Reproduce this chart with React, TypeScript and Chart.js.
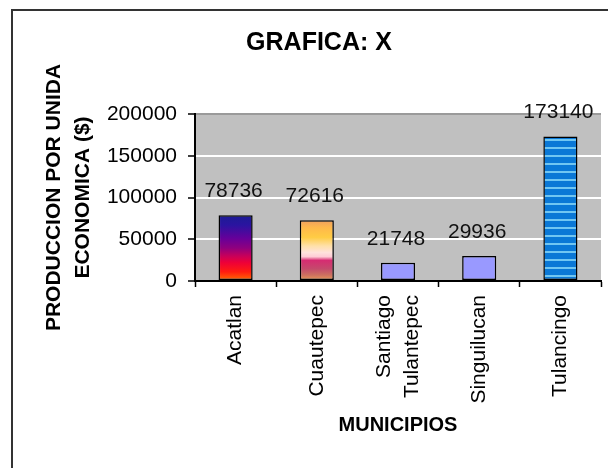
import React, { useEffect, useRef } from 'react';
import { Chart, registerables } from 'chart.js';

Chart.register(...registerables);

// ---- data ----
const categories: (string | string[])[] = ['Acatlan', 'Cuautepec', ['Santiago', 'Tulantepec'], 'Singuilucan', 'Tulancingo'];
const values = [78736, 72616, 21748, 29936, 173140];
const yTicks = [0, 50000, 100000, 150000, 200000];
const chartTitle = 'GRAFICA: X';
const yTitle = ['PRODUCCION POR UNIDA', 'ECONOMICA ($)'];
const xTitle = 'MUNICIPIOS';

// ---- styles ----
const FONT = "'Liberation Sans', Arial, sans-serif";
const barFills = ['gradA', 'gradB', '#9999ff', '#9999ff', 'stripes'];
const gradAStops: [number, string][] = [
  [0, '#1c1c94'], [0.15, '#2a14a0'], [0.35, '#66009a'], [0.5, '#90007e'],
  [0.62, '#c8005a'], [0.72, '#ee0038'], [0.86, '#ff1c10'], [1, '#ff7200'],
];
const gradBStops: [number, string][] = [
  [0, '#f0a060'], [0.12, '#ffb84a'], [0.28, '#ffcc44'], [0.42, '#ffe0a8'],
  [0.53, '#ffe2dc'], [0.6, '#ffccd6'], [0.66, '#d62c72'], [0.8, '#c44a6c'],
  [0.9, '#cc7060'], [1, '#eea056'],
];

let stripePattern: CanvasPattern | null = null;
function getStripes(ctx: CanvasRenderingContext2D) {
  if (stripePattern) return stripePattern;
  const pc = document.createElement('canvas');
  pc.width = 4;
  pc.height = 8;
  const p = pc.getContext('2d')!;
  p.fillStyle = '#0a78d6';
  p.fillRect(0, 0, 4, 8);
  p.fillStyle = '#70c6f2';
  p.fillRect(0, 3, 4, 2);
  stripePattern = ctx.createPattern(pc, 'repeat');
  return stripePattern;
}

function grad(ctx: CanvasRenderingContext2D, top: number, bottom: number, stops: [number, string][]) {
  const g = ctx.createLinearGradient(0, top, 0, bottom);
  stops.forEach(([o, c]) => g.addColorStop(o, c));
  return g;
}

const framePlugin = {
  id: 'frame',
  beforeDraw(chart: any) {
    const ctx = chart.ctx as CanvasRenderingContext2D;
    ctx.save();
    ctx.fillStyle = '#ffffff';
    ctx.fillRect(0, 0, chart.width, chart.height);
    ctx.strokeStyle = '#333333';
    ctx.lineWidth = 2;
    ctx.beginPath();
    ctx.moveTo(12, chart.height + 5);
    ctx.lineTo(12, 10);
    ctx.lineTo(chart.width + 5, 10);
    ctx.stroke();
    const a = chart.chartArea;
    ctx.fillStyle = '#c0c0c0';
    ctx.fillRect(a.left, a.top, a.right - a.left, a.bottom - a.top);
    ctx.restore();
  },
};

const labelsPlugin = {
  id: 'barLabels',
  afterDatasetsDraw(chart: any) {
    const ctx = chart.ctx as CanvasRenderingContext2D;
    const meta = chart.getDatasetMeta(0);
    ctx.save();
    ctx.font = `21px ${FONT}`;
    ctx.fillStyle = '#111111';
    ctx.textAlign = 'center';
    ctx.textBaseline = 'alphabetic';
    meta.data.forEach((bar: any, i: number) => {
      ctx.fillText(String(values[i]), bar.x - 2, bar.y - 18);
    });
    // x category labels (rotated)
    const xs = chart.scales.x;
    const lh = 28;
    ctx.fillStyle = '#000000';
    categories.forEach((lab, i) => {
      const lines = Array.isArray(lab) ? lab : [lab];
      const cx = xs.getPixelForTick(i);
      lines.forEach((ln, j) => {
        const x = cx + (j - (lines.length - 1) / 2) * lh;
        ctx.save();
        ctx.translate(x, xs.top + 6 + 8);
        ctx.rotate(-Math.PI / 2);
        ctx.textAlign = 'right';
        ctx.textBaseline = 'middle';
        ctx.fillText(ln, 0, 0);
        ctx.restore();
      });
    });
    ctx.restore();
  },
};

export default function App() {
  const ref = useRef<HTMLCanvasElement>(null);
  useEffect(() => {
    if (!ref.current) return;
    const chart = new Chart(ref.current, {
      type: 'bar',
      data: {
        labels: categories as any,
        datasets: [
          {
            data: values,
            backgroundColor: (c: any) => {
              const chart = c.chart;
              const kind = barFills[c.dataIndex];
              const ys = chart.scales && chart.scales.y;
              if (kind === 'stripes') return getStripes(chart.ctx) || '#0a78d6';
              if (kind !== 'gradA' && kind !== 'gradB') return kind;
              if (!ys || !chart.chartArea) return '#9999ff';
              const top = ys.getPixelForValue(c.raw);
              const bot = ys.getPixelForValue(0);
              return grad(chart.ctx, top, bot, kind === 'gradA' ? gradAStops : gradBStops);
            },
            borderColor: '#000000',
            borderWidth: 1.5,
            borderSkipped: false,
            barPercentage: 0.42,
            categoryPercentage: 1,
          },
        ],
      },
      options: {
        animation: false,
        responsive: false,
        devicePixelRatio: 1,
        layout: { padding: { left: 37, right: 7, top: 0, bottom: 31 } },
        plugins: {
          legend: { display: false },
          tooltip: { enabled: false },
          title: {
            display: true,
            text: chartTitle,
            color: '#000000',
            font: { family: FONT, size: 25, weight: 'bold', lineHeight: 1.2 },
            padding: { top: 28, bottom: 56 },
          },
        },
        scales: {
          x: {
            afterFit: (s: any) => { s.height = 156; },
            ticks: { display: false },
            grid: {
              drawOnChartArea: false,
              drawTicks: true,
              tickLength: 6,
              tickColor: '#000000',
              tickWidth: 1.5,
              color: '#000000',
            },
            border: { color: '#000000', width: 2 },
            title: {
              display: true,
              text: xTitle,
              color: '#000000',
              font: { family: FONT, size: 20, weight: 'bold', lineHeight: 1.2 },
              padding: { top: 0, bottom: 0 },
            },
          },
          y: {
            min: yTicks[0],
            max: yTicks[yTicks.length - 1],
            afterFit: (s: any) => { s.width = 158; },
            ticks: {
              stepSize: yTicks[1] - yTicks[0],
              color: '#000000',
              padding: 11,
              font: { family: FONT, size: 21 },
              callback: (v: any) => String(v),
            },
            grid: {
              color: (c: any) => (c.tick && c.tick.value === 0 ? 'rgba(0,0,0,0)' : c.tick && c.tick.value === yTicks[yTicks.length - 1] ? '#9a9a9a' : '#ffffff'),
              lineWidth: 2,
              tickLength: 7,
              tickColor: '#000000',
              tickWidth: 1.5,
            },
            border: { color: '#000000', width: 2 },
            title: {
              display: true,
              text: yTitle,
              color: '#000000',
              font: { family: FONT, size: 21, weight: 'bold', lineHeight: 1.38 },
              padding: { top: 2.5, bottom: 0 },
            },
          },
        },
      },
      plugins: [framePlugin, labelsPlugin],
    } as any);
    return () => chart.destroy();
  }, []);
  return (
    <div style={{ position: 'fixed', left: 0, top: 0, width: 608, height: 468, background: '#fff' }}>
      <canvas ref={ref} width={608} height={468} />
    </div>
  );
}
